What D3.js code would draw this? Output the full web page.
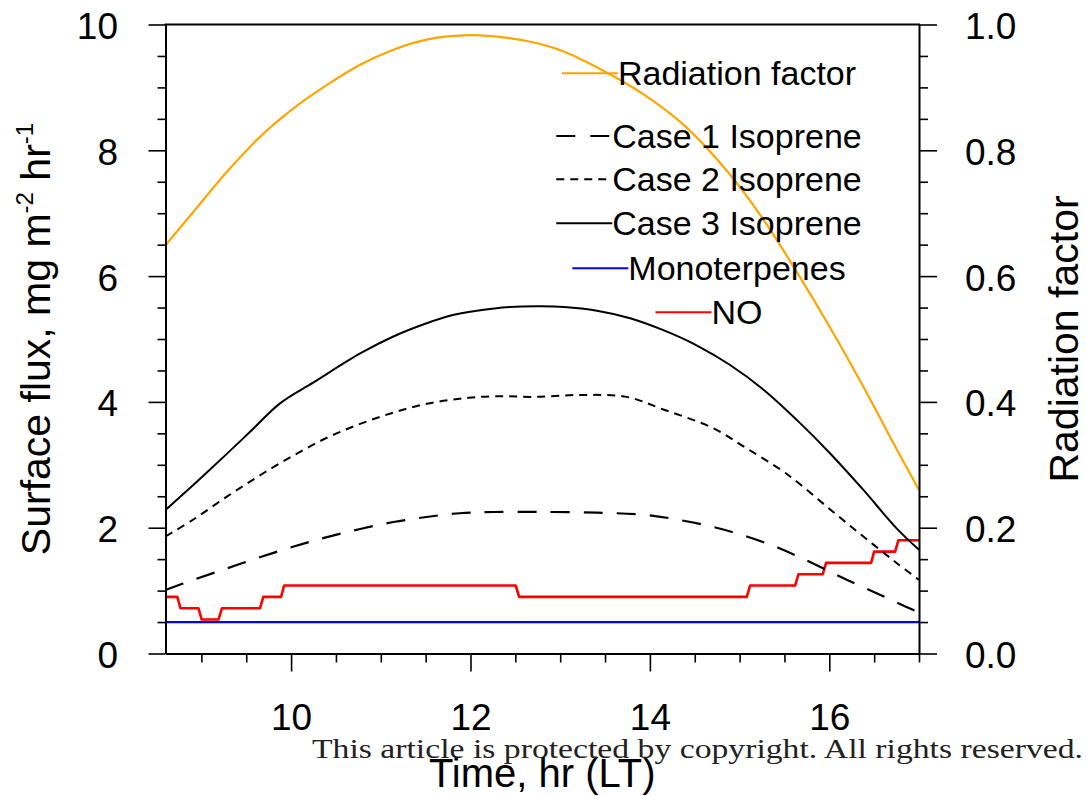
<!DOCTYPE html>
<html>
<head>
<meta charset="utf-8">
<script src="https://cdn.jsdelivr.net/npm/d3@7"></script>
<style>
  html, body { margin: 0; padding: 0; background: #fff; }
  svg { display: block; }
  text { font-family: "Liberation Sans", Arial, Helvetica, sans-serif; fill: #000; }
</style>
</head>
<body>
<svg id="chart" width="1086" height="796"></svg>
<script>
// ---------------- data ----------------
const radTime   = [8.6, 8.91, 9.28, 9.65, 10.03, 10.4, 10.77, 11.14, 11.51, 12.0, 12.4, 12.78, 13.04, 13.59, 14.0, 14.41, 14.89, 15.27, 15.64, 16.01, 16.38, 16.75, 17.0];
const radFactor = [0.649, 0.702, 0.765, 0.821, 0.867, 0.904, 0.936, 0.960, 0.976, 0.983, 0.979, 0.969, 0.957, 0.918, 0.882, 0.836, 0.762, 0.689, 0.606, 0.518, 0.424, 0.325, 0.260];

const case1Time = [8.6, 8.91, 9.28, 9.65, 10.03, 10.4, 10.77, 11.14, 11.51, 11.88, 12.26, 12.78, 13.41, 13.97, 14.34, 14.71, 15.08, 15.45, 15.82, 16.2, 16.57, 16.86, 17.0];
const case1Flux = [1.01, 1.17, 1.35, 1.53, 1.70, 1.85, 1.98, 2.09, 2.17, 2.23, 2.25, 2.25, 2.24, 2.20, 2.12, 2.01, 1.86, 1.67, 1.43, 1.17, 0.93, 0.74, 0.65];

const case2Time = [8.6, 8.91, 9.28, 9.65, 10.03, 10.4, 10.77, 11.14, 11.51, 11.88, 12.26, 12.7, 13.22, 13.74, 14.15, 14.71, 15.08, 15.45, 15.64, 16.01, 16.38, 16.75, 17.0];
const case2Flux = [1.86, 2.13, 2.49, 2.83, 3.15, 3.43, 3.65, 3.83, 3.97, 4.05, 4.09, 4.08, 4.11, 4.08, 3.88, 3.58, 3.26, 2.93, 2.73, 2.29, 1.86, 1.44, 1.17];

const case3Time = [8.6, 8.91, 9.28, 9.54, 9.88, 10.25, 10.77, 11.14, 11.51, 11.77, 12.07, 12.44, 12.78, 13.04, 13.41, 13.78, 14.15, 14.52, 14.89, 15.27, 15.64, 16.01, 16.38, 16.75, 17.0];
const case3Flux = [2.28, 2.68, 3.17, 3.52, 3.98, 4.31, 4.77, 5.04, 5.25, 5.37, 5.45, 5.51, 5.52, 5.51, 5.45, 5.33, 5.14, 4.90, 4.59, 4.19, 3.71, 3.18, 2.60, 1.99, 1.65];

const monoTime = [8.6, 17.0];
const monoFlux = [0.5, 0.5];

const noTime = [8.6, 8.732, 8.766, 8.967, 9.004, 9.19, 9.23, 9.654, 9.69, 9.889, 9.922, 12.505, 12.542, 15.08, 15.117, 15.619, 15.656, 15.927, 15.964, 16.466, 16.5, 16.734, 16.77, 17.0];
const noFlux = [0.90, 0.90, 0.72, 0.72, 0.54, 0.54, 0.72, 0.72, 0.90, 0.90, 1.08, 1.08, 0.90, 0.90, 1.08, 1.08, 1.26, 1.26, 1.44, 1.44, 1.62, 1.62, 1.80, 1.80];

const xMajorTicks = [10, 12, 14, 16];
const xMajorLabels = ["10", "12", "14", "16"];
const xMinorTicks = [9, 9.5, 10.5, 11, 11.5, 12.5, 13, 13.5, 14.5, 15, 15.5, 16.5, 17];
const yLeftMajorTicks = [0, 2, 4, 6, 8, 10];
const yLeftMajorLabels = ["0", "2", "4", "6", "8", "10"];
const yLeftMinorTicks = [0.5, 1, 1.5, 2.5, 3, 3.5, 4.5, 5, 5.5, 6.5, 7, 7.5, 8.5, 9, 9.5];
const yRightMajorTicks = [0, 0.2, 0.4, 0.6, 0.8, 1.0];
const yRightMajorLabels = ["0.0", "0.2", "0.4", "0.6", "0.8", "1.0"];
const yRightMinorTicks = [0.05, 0.1, 0.15, 0.25, 0.3, 0.35, 0.45, 0.5, 0.55, 0.65, 0.7, 0.75, 0.85, 0.9, 0.95];

const legendLabels = ["Radiation factor", "Case 1 Isoprene", "Case 2 Isoprene", "Case 3 Isoprene", "Monoterpenes", "NO"];

// ---------------- layout ----------------
const L = 165.5, R = 919, T = 24.5, B = 653.5;
const svg = d3.select("#chart");

const x = d3.scaleLinear().domain([8.6, 17]).range([L, R]);
const yL = d3.scaleLinear().domain([0, 10]).range([B, T]);
const yR = d3.scaleLinear().domain([0, 1]).range([B, T]);

const zip = (a, b) => a.map((t, i) => [t, b[i]]);

// ---------------- series ----------------
const lineL = d3.line().x(d => x(d[0])).y(d => yL(d[1]));
const smoothL = d3.line().x(d => x(d[0])).y(d => yL(d[1])).curve(d3.curveCatmullRom.alpha(0.5));
const smoothR = d3.line().x(d => x(d[0])).y(d => yR(d[1])).curve(d3.curveCatmullRom.alpha(0.5));

const gLines = svg.append("g").attr("fill", "none");
gLines.append("path").attr("d", lineL(zip(monoTime, monoFlux)))
  .attr("stroke", "#0000ff").attr("stroke-width", 2.2);
gLines.append("path").attr("d", lineL(zip(noTime, noFlux)))
  .attr("stroke", "#ff0000").attr("stroke-width", 2.6).attr("stroke-linejoin", "round");
gLines.append("path").attr("d", smoothL(zip(case1Time, case1Flux)))
  .attr("stroke", "#000").attr("stroke-width", 2.2).attr("stroke-dasharray", "19,14");
gLines.append("path").attr("d", smoothL(zip(case2Time, case2Flux)))
  .attr("stroke", "#000").attr("stroke-width", 2.0).attr("stroke-dasharray", "8,6");
gLines.append("path").attr("d", smoothL(zip(case3Time, case3Flux)))
  .attr("stroke", "#000").attr("stroke-width", 2.0);
gLines.append("path").attr("d", smoothR(zip(radTime, radFactor)))
  .attr("stroke", "#ffa500").attr("stroke-width", 2.2);

// ---------------- axes ----------------
const tickFont = 37;
function styleAxis(g) {
  g.selectAll("path.domain").attr("stroke", "#000").attr("stroke-width", 2);
  g.selectAll(".tick line").attr("stroke", "#000").attr("stroke-width", 1.6);
}

// bottom
const gB = svg.append("g").attr("transform", `translate(0,${B})`);
gB.call(d3.axisBottom(x).tickValues(xMajorTicks).tickFormat((d, i) => xMajorLabels[i]).tickSize(18).tickSizeOuter(0))
  .call(styleAxis);
gB.selectAll(".tick text").attr("y", 730 - B).attr("dy", 0)
  .style("font-size", tickFont + "px").style("font-family", '"Liberation Sans", Arial, sans-serif');
const gBm = svg.append("g").attr("transform", `translate(0,${B})`);
gBm.call(d3.axisBottom(x).tickValues(xMinorTicks).tickFormat("").tickSize(9).tickSizeOuter(0)).call(styleAxis);
gBm.select("path.domain").remove();

// left
const gLf = svg.append("g").attr("transform", `translate(${L},0)`);
gLf.call(d3.axisLeft(yL).tickValues(yLeftMajorTicks).tickFormat((d, i) => yLeftMajorLabels[i]).tickSize(17).tickSizeOuter(0))
  .call(styleAxis);
gLf.selectAll(".tick text").attr("x", 118 - L).attr("dy", "0.38em")
  .style("font-size", tickFont + "px").style("font-family", '"Liberation Sans", Arial, sans-serif');
const gLm = svg.append("g").attr("transform", `translate(${L},0)`);
gLm.call(d3.axisLeft(yL).tickValues(yLeftMinorTicks).tickFormat("").tickSize(8).tickSizeOuter(0)).call(styleAxis);
gLm.select("path.domain").remove();

// right
const gRt = svg.append("g").attr("transform", `translate(${R},0)`);
gRt.call(d3.axisRight(yR).tickValues(yRightMajorTicks).tickFormat((d, i) => yRightMajorLabels[i]).tickSize(18).tickSizeOuter(0))
  .call(styleAxis);
gRt.selectAll(".tick text").attr("x", 965 - R).attr("dy", "0.38em")
  .style("font-size", tickFont + "px").style("font-family", '"Liberation Sans", Arial, sans-serif');
const gRm = svg.append("g").attr("transform", `translate(${R},0)`);
gRm.call(d3.axisRight(yR).tickValues(yRightMinorTicks).tickFormat("").tickSize(9).tickSizeOuter(0)).call(styleAxis);
gRm.select("path.domain").remove();

// top frame line
svg.append("line").attr("x1", L - 1).attr("x2", R + 1).attr("y1", T).attr("y2", T)
  .attr("stroke", "#000").attr("stroke-width", 2);

// ---------------- axis titles ----------------
const yTitle = svg.append("text")
  .attr("transform", `translate(50,${(T + B) / 2}) rotate(-90)`)
  .attr("text-anchor", "middle")
  .style("font-size", "41px");
yTitle.append("tspan").text("Surface flux, mg m");
yTitle.append("tspan").attr("dy", -17).style("font-size", "24px").text("-2");
yTitle.append("tspan").attr("dy", 17).text(" hr");
yTitle.append("tspan").attr("dy", -17).style("font-size", "24px").text("-1");

svg.append("text")
  .attr("transform", `translate(1078,${(T + B) / 2}) rotate(-90)`)
  .attr("text-anchor", "middle")
  .style("font-size", "41px")
  .text("Radiation factor");

svg.append("text")
  .attr("x", (L + R) / 2).attr("y", 787)
  .attr("text-anchor", "middle")
  .style("font-size", "40px")
  .text("Time, hr (LT)");

// ---------------- legend ----------------
const legendColors = ["#ffa500", "#000", "#000", "#000", "#0000ff", "#ff0000"];
const legendDash = [null, "19,15", "8,6", null, null, null];
const legendY = [73.3, 136, 179.3, 223.3, 268.3, 312.3];
const legendCenter = 709, legendLine = 56;
const gLeg = svg.append("g");
legendLabels.forEach((lab, i) => {
  const t = gLeg.append("text").attr("y", legendY[i] + 12).style("font-size", "34px").text(lab);
  const w = t.node().getComputedTextLength();
  const x0 = legendCenter - (legendLine + w) / 2;
  t.attr("x", x0 + legendLine);
  const ln = gLeg.append("line")
    .attr("x1", x0).attr("x2", x0 + legendLine)
    .attr("y1", legendY[i]).attr("y2", legendY[i])
    .attr("stroke", legendColors[i]).attr("stroke-width", 2);
  if (legendDash[i]) ln.attr("stroke-dasharray", legendDash[i]);
});

// ---------------- copyright notice ----------------
svg.append("text")
  .attr("x", 312).attr("y", 758)
  .attr("textLength", 771).attr("lengthAdjust", "spacingAndGlyphs")
  .style("font-family", '"Liberation Serif", "DejaVu Serif", serif')
  .style("font-size", "28px")
  .style("fill", "#222")
  .text("This article is protected by copyright. All rights reserved.");
</script>
</body>
</html>
